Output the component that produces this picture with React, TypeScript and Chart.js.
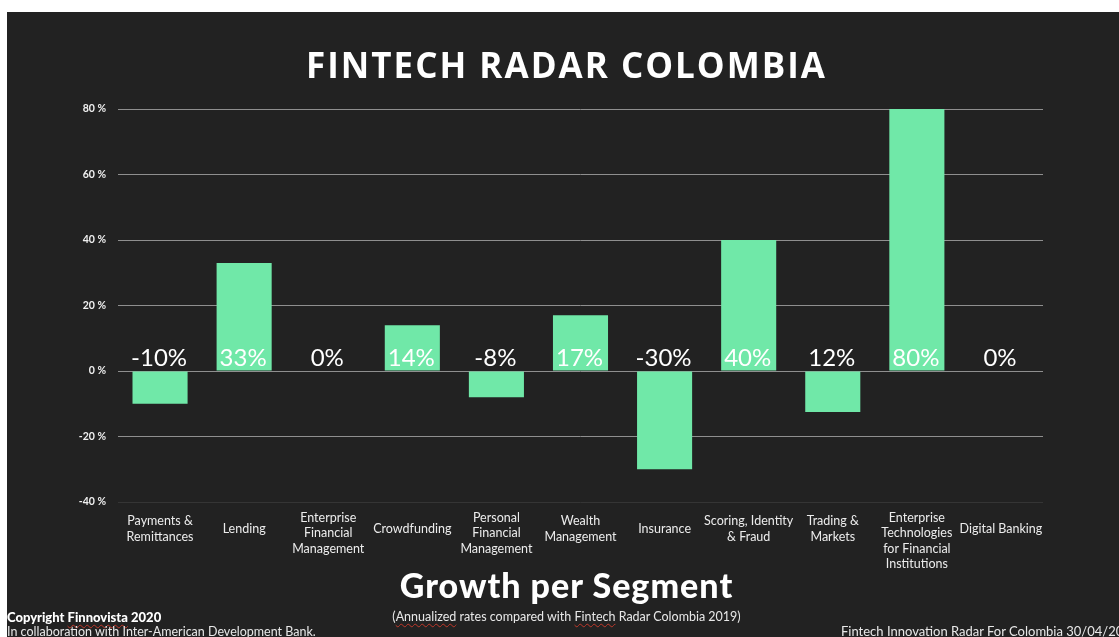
import React, { useEffect, useRef } from "react";
import { Chart, registerables } from "chart.js";

Chart.register(...registerables);

const categories: string[][] = [
  ["Payments &", "Remittances"],
  ["Lending"],
  ["Enterprise", "Financial", "Management"],
  ["Crowdfunding"],
  ["Personal", "Financial", "Management"],
  ["Wealth", "Management"],
  ["Insurance"],
  ["Scoring, Identity", "& Fraud"],
  ["Trading &", "Markets"],
  ["Enterprise", "Technologies", "for Financial", "Institutions"],
  ["Digital Banking"],
];

const growthValues: number[] = [-10, 33, 0, 14, -8, 17, -30, 40, -12.5, 80, 0];

const valueLabels: string[] = ["-10%", "33%", "0%", "14%", "-8%", "17%", "-30%", "40%", "12%", "80%", "0%"];

const yTicks: number[] = [-40, -20, 0, 20, 40, 60, 80];

const BG = "#222222";
const BAR = "#70E8A8";
const LABEL_FONT = "Lato, 'Noto Sans', sans-serif";

const labelPlugin = {
  id: "customLabels",
  afterDatasetsDraw(chart: any) {
    const ctx = chart.ctx;
    const xs = chart.scales.x;
    const ys = chart.scales.y;
    const zeroY = ys.getPixelForValue(0);
    const bottom = chart.chartArea.bottom;
    ctx.save();
    // value labels
    ctx.fillStyle = "#ffffff";
    ctx.font = `400 24px ${LABEL_FONT}`;
    ctx.textAlign = "center";
    ctx.textBaseline = "alphabetic";
    valueLabels.forEach((t, i) => {
      ctx.fillText(t, xs.getPixelForValue(i) - 1, zeroY - 5);
    });
    // category labels
    ctx.fillStyle = "#ececec";
    ctx.font = `400 12.5px ${LABEL_FONT}`;
    ctx.textBaseline = "middle";
    const lh = 15.5;
    categories.forEach((lines, i) => {
      const h = lines.length * lh;
      const top = Math.max(bottom + 8, bottom + 27 - h / 2);
      const x = xs.getPixelForValue(i);
      lines.forEach((ln, k) => {
        ctx.fillText(ln, x, top + lh * (k + 0.5));
      });
    });
    ctx.restore();
  },
};

function ChartCanvas() {
  const ref = useRef<HTMLCanvasElement>(null);
  useEffect(() => {
    if (!ref.current) return;
    const chart = new Chart(ref.current, {
      type: "bar",
      data: {
        labels: categories.map((c) => c.join(" ")),
        datasets: [
          {
            data: growthValues,
            backgroundColor: BAR,
            borderWidth: 0,
            barPercentage: 0.655,
            categoryPercentage: 1,
          },
        ],
      },
      options: {
        animation: false,
        responsive: false,
        layout: { padding: { top: 97, right: 76, left: 0, bottom: 0 } },
        plugins: {
          legend: { display: false },
          tooltip: { enabled: false },
          title: { display: false },
        },
        scales: {
          x: {
            grid: { display: false },
            border: { display: false },
            ticks: { display: false },
            afterFit: (s: any) => {
              s.height = 135;
            },
          },
          y: {
            min: -40,
            max: 80,
            afterBuildTicks: (s: any) => {
              s.ticks = yTicks.map((v) => ({ value: v }));
            },
            afterFit: (s: any) => {
              s.width = 111;
            },
            border: { display: false },
            grid: {
              drawTicks: false,
              color: (c: any) => (c.tick && c.tick.value === -40 ? "#353535" : "#8f8f8f"),
              lineWidth: 1,
            },
            ticks: {
              padding: 12,
              color: "#f0f0f0",
              font: { family: LABEL_FONT, size: 10.5, weight: "bold" },
              callback: (v: any) => `${v} %`,
            },
          },
        },
      },
      plugins: [labelPlugin],
    });
    return () => chart.destroy();
  }, []);
  return <canvas ref={ref} width={1112} height={625} style={{ display: "block" }} />;
}

const squiggle: React.CSSProperties = {
  textDecoration: "underline wavy #c0392b",
  textDecorationThickness: "1px",
  textUnderlineOffset: "2px",
};

export default function App() {
  return (
    <div
      style={{
        position: "fixed",
        left: 0,
        top: 0,
        width: 1119,
        height: 637,
        background: "#ffffff",
        overflow: "hidden",
      }}
    >
      <div
        style={{
          position: "absolute",
          left: 7,
          top: 12,
          width: 1112,
          height: 625,
          background: BG,
          overflow: "hidden",
          color: "#ffffff",
          fontFamily: LABEL_FONT,
        }}
      >
        <ChartCanvas />
        <div
          style={{
            position: "absolute",
            left: 0,
            width: 1119,
            top: 30,
            textAlign: "center",
            fontFamily: "'Open Sans', sans-serif",
            fontWeight: 700,
            fontSize: 35,
            lineHeight: "46px",
            letterSpacing: 2,
          }}
        >
          FINTECH RADAR COLOMBIA
        </div>
        <div
          style={{
            position: "absolute",
            left: 0,
            width: 1119,
            top: 553,
            textAlign: "center",
            fontFamily: "Lato, sans-serif",
            fontWeight: 900,
            fontSize: 34,
            lineHeight: "40px",
            letterSpacing: 1,
          }}
        >
          Growth per Segment
        </div>
        <div
          style={{
            position: "absolute",
            left: 0,
            width: 1119,
            top: 597,
            textAlign: "center",
            fontSize: 12.5,
            lineHeight: "16px",
            color: "#e8e8e8",
          }}
        >
          (<span style={squiggle}>Annualized</span> rates compared with <span style={squiggle}>Fintech</span> Radar Colombia 2019)
        </div>
        <div
          style={{
            position: "absolute",
            left: 0,
            top: 598,
            fontSize: 13,
            lineHeight: "15px",
            fontWeight: 900,
            whiteSpace: "nowrap",
          }}
        >
          Copyright <span style={squiggle}>Finnovista</span> 2020
        </div>
        <div
          style={{
            position: "absolute",
            left: 0,
            top: 612,
            fontSize: 12.5,
            lineHeight: "15px",
            color: "#e8e8e8",
            whiteSpace: "nowrap",
          }}
        >
          In collaboration with Inter-American Development Bank.
        </div>
        <div
          style={{
            position: "absolute",
            left: 834,
            top: 612,
            fontSize: 13,
            lineHeight: "15px",
            color: "#e8e8e8",
            whiteSpace: "nowrap",
          }}
        >
          <span style={squiggle}>Fintech</span> Innovation Radar For Colombia 30/04/2020
        </div>
      </div>
    </div>
  );
}
